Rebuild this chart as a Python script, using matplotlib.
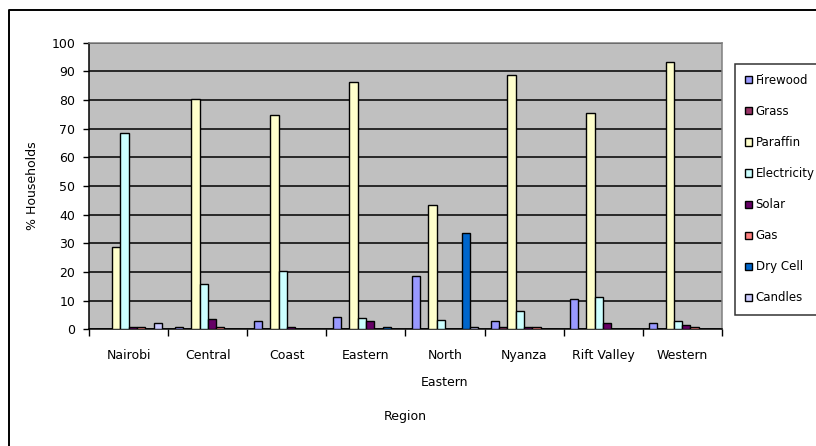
import matplotlib.pyplot as plt
import numpy as np

regions = ['Nairobi', 'Central', 'Coast', 'Eastern', 'North\nEastern',
           'Nyanza', 'Rift Valley', 'Western']
fuels = ['Firewood', 'Grass', 'Paraffin', 'Electricity', 'Solar', 'Gas',
         'Dry Cell', 'Candles']

# % of households per region, one list per fuel
firewood = [0.0, 0.8, 2.8, 4.3, 18.7, 2.8, 10.4, 2.2]
grass = [0.0, 0.0, 0.0, 0.0, 0.0, 0.8, 0.0, 0.0]
paraffin = [28.8, 80.4, 74.8, 86.3, 43.5, 88.6, 75.5, 93.2]
electricity = [68.5, 15.8, 20.2, 4.0, 3.4, 6.4, 11.1, 2.8]
solar = [0.8, 3.5, 0.8, 2.8, 0.0, 0.8, 2.3, 1.4]
gas = [0.8, 0.8, 0.0, 0.0, 0.0, 0.8, 0.0, 0.8]
dry_cell = [0.0, 0.0, 0.0, 0.8, 33.5, 0.0, 0.0, 0.0]
candles = [2.3, 0.0, 0.0, 0.0, 0.8, 0.0, 0.0, 0.0]

series = [firewood, grass, paraffin, electricity, solar, gas, dry_cell, candles]
colors = ['#9999FF', '#993366', '#FFFFCC', '#CCFFFF', '#660066', '#FF8080',
          '#0066CC', '#CCCCFF']

plt.rcParams['font.family'] = 'DejaVu Sans'
plt.rcParams['font.size'] = 9

fig = plt.figure(figsize=(8.16, 4.46), dpi=100)
ax = fig.add_axes([0.1094, 0.2617, 0.775, 0.6426])
ax.set_facecolor('#C0C0C0')

x = np.arange(len(regions))
w = 1 / 9.5
for i, vals in enumerate(series):
    ax.bar(x + (i - 3.5) * w, vals, w, color=colors[i], edgecolor='black',
           linewidth=1.0, label=fuels[i], zorder=3)

ax.set_xlim(-0.5, len(regions) - 0.5)
ax.set_ylim(0, 100)
ax.set_yticks(range(0, 101, 10))
ax.yaxis.grid(True, color='black', linewidth=1.1, zorder=1)
ax.set_axisbelow(True)

ax.set_xticks(x)
ax.set_xticklabels(regions, linespacing=2.45)
ax.set_xticks(np.arange(-0.5, len(regions)), minor=True)
ax.tick_params(axis='x', which='major', length=0, pad=14)
ax.tick_params(axis='x', which='minor', length=5, width=1, direction='out')
ax.tick_params(axis='y', length=4, width=1, direction='out', pad=6)

for s in ['left', 'bottom']:
    ax.spines[s].set_color('black')
    ax.spines[s].set_linewidth(1.1)
for s in ['top', 'right']:
    ax.spines[s].set_color('#808080')
    ax.spines[s].set_linewidth(1.1)

ax.set_ylabel('% Households')
ax.yaxis.set_label_coords(-0.08, 0.5)
ax.set_xlabel('Region')
ax.xaxis.set_label_coords(0.5, -0.28)

leg = fig.legend(loc='upper left', bbox_to_anchor=(735 / 816, 1 - 64 / 446),
                 frameon=True, fancybox=False, edgecolor='black', fontsize=8.5,
                 handlelength=0.55, handleheight=0.55, handletextpad=0.35,
                 labelspacing=1.53, borderpad=0.85, borderaxespad=0)
leg.get_frame().set_linewidth(1.1)

# outer chart frame (runs off the right and bottom edges)
fig.add_artist(plt.Line2D([9 / 816, 9 / 816, 1.01], [-0.01, 1 - 10 / 446, 1 - 10 / 446],
                          transform=fig.transFigure, color='black', linewidth=1.4))

fig.savefig('out.png', dpi=100)
